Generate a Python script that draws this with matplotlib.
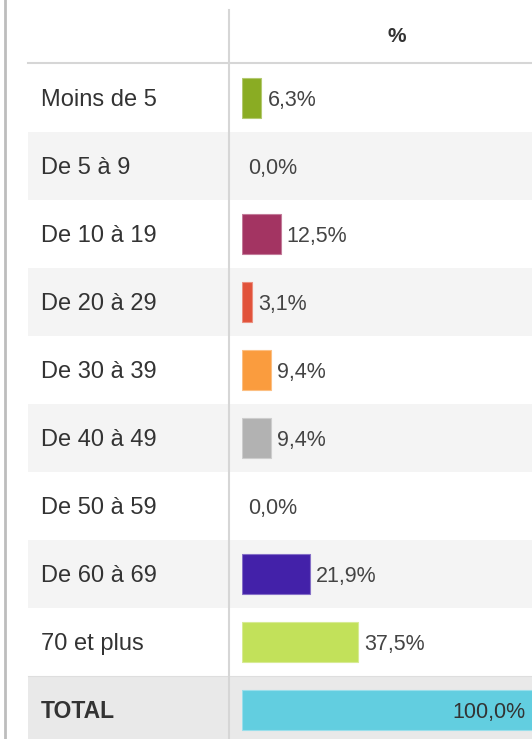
import matplotlib
matplotlib.use("Agg")
import matplotlib.pyplot as plt
from matplotlib.patches import Rectangle
from matplotlib.colors import to_rgb

plt.rcParams['font.family'] = ['Liberation Sans', 'DejaVu Sans']

categories = ["Moins de 5", "De 5 à 9", "De 10 à 19", "De 20 à 29", "De 30 à 39",
              "De 40 à 49", "De 50 à 59", "De 60 à 69", "70 et plus", "TOTAL"]
values = [6.3, 0.0, 12.5, 3.1, 9.4, 9.4, 0.0, 21.9, 37.5, 100.0]
colors = ["#8aac23", "#888888", "#a33462", "#e1523a", "#fa9c3e",
          "#b2b2b2", "#888888", "#4321a9", "#c2e15a", "#62cee0"]
header = "%"

W, H = 532, 739
fig = plt.figure(figsize=(W / 100, H / 100), dpi=100)
fig.patch.set_facecolor("white")

# background / table structure in pixel coordinates
bg = fig.add_axes([0, 0, 1, 1])
bg.set_xlim(0, W)
bg.set_ylim(H, 0)
bg.axis("off")

row_top0, row_h = 64, 68
n = len(categories)
for i, cat in enumerate(categories):
    top = row_top0 + i * row_h
    is_total = (i == n - 1)
    if is_total:
        fc = "#e9e9e9"
    elif i % 2 == 1:
        fc = "#f4f4f4"
    else:
        fc = None
    if fc:
        bg.add_patch(Rectangle((28, top), W - 28, row_h, facecolor=fc, edgecolor="none", zorder=0))
    bg.text(41, top + row_h / 2 + 2, cat, fontsize=17 if not is_total else 16.5,
            fontweight="bold" if is_total else "normal",
            color="#333333", va="center", ha="left")

bg.plot([28, W], [row_top0 + (n - 1) * row_h, row_top0 + (n - 1) * row_h],
        color="#dedede", lw=0.8, zorder=1)
# header
bg.text(397, 37, header, fontsize=15, fontweight="bold", color="#333333",
        ha="center", va="center")
bg.plot([28, W], [62.5, 62.5], color="#d6d6d6", lw=1.5, zorder=1)
bg.plot([229, 229], [10, H], color="#d6d6d6", lw=1.5, zorder=1)
bg.plot([5, 5], [0, H], color="#bdbdbd", lw=2.0, zorder=1)

# bar axes
px_per_pct = 3.09
x0 = 242
ax_w = W - x0
ax = fig.add_axes([x0 / W, (H - (row_top0 + n * row_h)) / H, ax_w / W, n * row_h / H])
ax.set_xlim(0, ax_w / px_per_pct)
ax.set_ylim(n - 0.5, -0.5)
ax.patch.set_alpha(0)
ax.axis("off")

def lighter(c, f=0.35):
    r, g, b = to_rgb(c)
    return (r + (1 - r) * f, g + (1 - g) * f, b + (1 - b) * f)

for i, (v, c) in enumerate(zip(values, colors)):
    if v > 0:
        ax.barh(i, v, height=0.59, color=c, edgecolor=lighter(c), linewidth=0.8, zorder=2)
    label = f"{v:.1f}".replace(".", ",") + "%"
    xmax = ax.get_xlim()[1]
    if v >= xmax:
        ax.annotate(label, xy=(xmax, i), xytext=(-4.5, -1.5), textcoords="offset points",
                    ha="right", va="center", fontsize=15.5, color="#333333", zorder=3)
    else:
        ax.annotate(label, xy=(v, i), xytext=(4.5, -1.5), textcoords="offset points",
                    ha="left", va="center", fontsize=15.5, color="#444444", zorder=3)

fig.savefig("out.png", dpi=100, facecolor="white")
